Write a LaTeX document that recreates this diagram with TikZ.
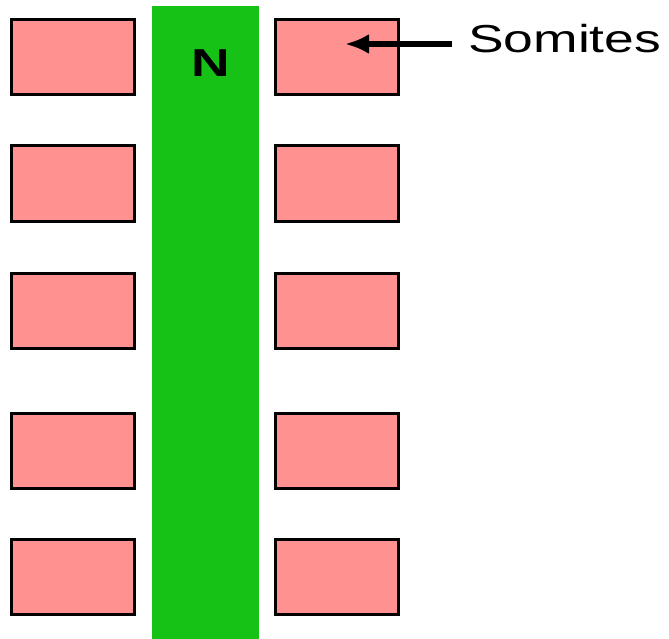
\documentclass[tikz,border=0pt]{standalone}
\usepackage{fontspec}
\setmainfont{Liberation Sans}
\usetikzlibrary{arrows.meta}
\definecolor{somite}{RGB}{255,145,145}
\definecolor{noto}{RGB}{22,194,22}
\begin{document}
\begin{tikzpicture}[x=1pt,y=-1pt,
  somitebox/.style={draw=black,fill=somite,line width=3pt,minimum width=123pt,minimum height=75pt,inner sep=0pt,outer sep=0pt},
  bar/.style={fill=noto,draw=none,minimum width=107pt,minimum height=633pt,inner sep=0pt,outer sep=0pt},
  lbl/.style={font=\fontsize{39}{40}\selectfont,inner sep=0pt},
  pointer/.style={line width=5.5pt,-{Latex[length=24pt,width=20pt]}}]
\useasboundingbox[fill=white] (0,0) rectangle (669,639);
\node[bar] (noto) at (205.5,322.5) {};
\node[lbl,anchor=base] (nlabel) at (211,77) {\scalebox{1.37}[1]{\bfseries N}};
\node[somitebox] (l1) at (73,57) {};
\node[somitebox] (l2) at (73,183.5) {};
\node[somitebox] (l3) at (73,311) {};
\node[somitebox] (l4) at (73,450.5) {};
\node[somitebox] (l5) at (73,577) {};
\node[somitebox] (r1) at (337,57) {};
\node[somitebox] (r2) at (337,183.5) {};
\node[somitebox] (r3) at (337,311) {};
\node[somitebox] (r4) at (337,450.5) {};
\node[somitebox] (r5) at (337,577) {};
\node[lbl,anchor=base west] (som) at (468,53) {\scalebox{1.37}[1]{Somites}};
\coordinate (tail) at (452,44);
\coordinate (tip) at (345,44);
\draw[pointer] (tail) -- (tip);
\end{tikzpicture}
\end{document}
